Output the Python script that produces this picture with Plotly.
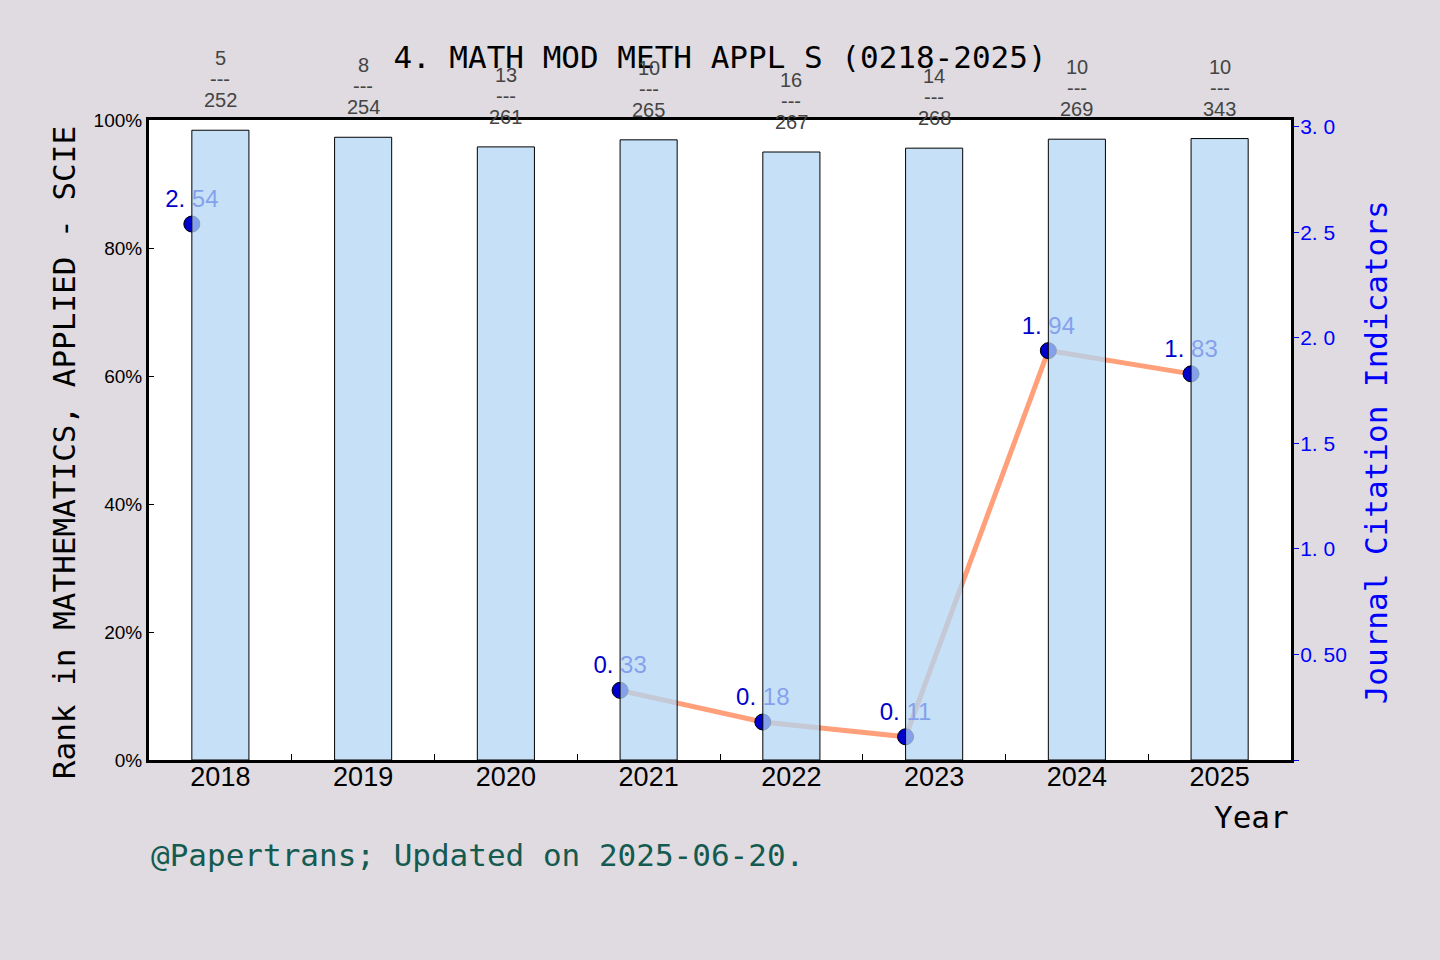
import plotly.graph_objects as go

# data
years = ["2018", "2019", "2020", "2021", "2022", "2023", "2024", "2025"]
rank_pct = [0.984, 0.973, 0.958, 0.969, 0.950, 0.956, 0.970, 0.971]
ranks = [5, 8, 13, 10, 16, 14, 10, 10]
totals = [252, 254, 261, 265, 267, 268, 269, 343]
jci = [2.54, None, None, 0.33, 0.18, 0.11, 1.94, 1.83]

jci_ticks = [0, 0.5, 1.0, 1.5, 2.0, 2.5, 3.0]
jci_ticktext = ["", "0. 50", "1. 0", "1. 5", "2. 0", "2. 5", "3. 0"]
pct_ticks = [0, 0.2, 0.4, 0.6, 0.8, 1.0]

BG = "#dfdbe0"
MONO = "DejaVu Sans Mono"
SANS = "Liberation Sans"

xs = list(range(len(years)))
line_x = [i - 0.2 for i in xs]
labels = ["" if v is None else f"{v:.2f}".replace(".", ". ") for v in jci]

fig = go.Figure()

# JCI line on the main axis (drawn first, under the bars)
fig.add_trace(go.Scatter(
    x=line_x, y=jci, mode="lines+markers+text",
    line=dict(color="#ffa07a", width=5),
    marker=dict(size=16, color="#0000cd", line=dict(color="black", width=1)),
    text=labels, textposition="top center",
    textfont=dict(family=SANS, size=24, color="#0000cd"),
    connectgaps=False, showlegend=False, cliponaxis=False,
    xaxis="x", yaxis="y",
))

# rank bars on the overlaying axis so they sit on top of the line
fig.add_trace(go.Bar(
    x=xs, y=rank_pct, width=0.4,
    marker=dict(color="rgba(178,214,244,0.75)", line=dict(color="black", width=1)),
    showlegend=False, xaxis="x", yaxis="y2",
))

annos = []
for i in xs:
    for txt, shift in ((str(totals[i]), 30), ("---", 51), (str(ranks[i]), 72)):
        annos.append(dict(
            x=i, y=rank_pct[i], xref="x", yref="y2", text=txt, showarrow=False,
            yanchor="middle", yshift=shift,
            font=dict(family=SANS, size=20, color="#444444"),
        ))

annos += [
    dict(text="Rank in MATHEMATICS, APPLIED - SCIE", xref="paper", yref="paper",
         x=-0.075, y=0.48, textangle=-90, showarrow=False, xanchor="center", yanchor="middle",
         font=dict(family=MONO, size=31, color="black")),
    dict(text="Journal Citation Indicators", xref="paper", yref="paper",
         x=1.074, y=0.48, textangle=-90, showarrow=False, xanchor="center", yanchor="middle",
         font=dict(family=MONO, size=31, color="#0000ff")),
    dict(text="Year", xref="paper", yref="paper", x=1.0, y=-0.089,
         showarrow=False, xanchor="right", yanchor="middle",
         font=dict(family=MONO, size=31, color="black")),
    dict(text="@Papertrans; Updated on 2025-06-20.", xref="paper", yref="paper",
         x=0.0, y=-0.148, showarrow=False, xanchor="left", yanchor="middle",
         font=dict(family=MONO, size=31, color="#155a50")),
]

fig.update_layout(
    width=1440, height=960,
    paper_bgcolor=BG, plot_bgcolor="white",
    margin=dict(l=149, r=149, t=120, b=200),
    title=dict(text="4. MATH MOD METH APPL S (0218-2025)", x=0.5, xanchor="center",
               y=1 - 57 / 960, yanchor="middle",
               font=dict(family=MONO, size=31, color="black")),
    xaxis=dict(
        range=[-0.5, 7.5], tickvals=xs, ticktext=years, ticks="",
        tickfont=dict(family=SANS, size=27, color="black"),
        ticklabelstandoff=-9,
        showline=True, linecolor="black", linewidth=3, mirror=True,
        showgrid=False, zeroline=False,
        minor=dict(tickvals=[i + 0.5 for i in xs[:-1]], ticks="inside",
                   ticklen=6, tickcolor="black", tickwidth=1, showgrid=False),
    ),
    yaxis=dict(
        side="right", range=[0, 3.033], tickvals=jci_ticks, ticktext=jci_ticktext,
        ticks="outside", ticklen=5, tickcolor="#0000ff", tickwidth=1,
        tickfont=dict(family=SANS, size=21, color="#0000ff"),
        ticklabelstandoff=-3,
        showline=True, linecolor="black", linewidth=3,
        showgrid=False, zeroline=False,
    ),
    yaxis2=dict(
        side="left", overlaying="y", range=[0, 1], tickvals=pct_ticks, tickformat=".0%",
        ticks="inside", ticklen=5, tickcolor="black", tickwidth=1,
        tickfont=dict(family=SANS, size=19, color="black"),
        showline=True, linecolor="black", linewidth=3,
        showgrid=False, zeroline=False,
    ),
    annotations=annos,
)

fig.write_html("out.html", config={"displayModeBar": False},
               post_script="document.body.style.margin='0';")
